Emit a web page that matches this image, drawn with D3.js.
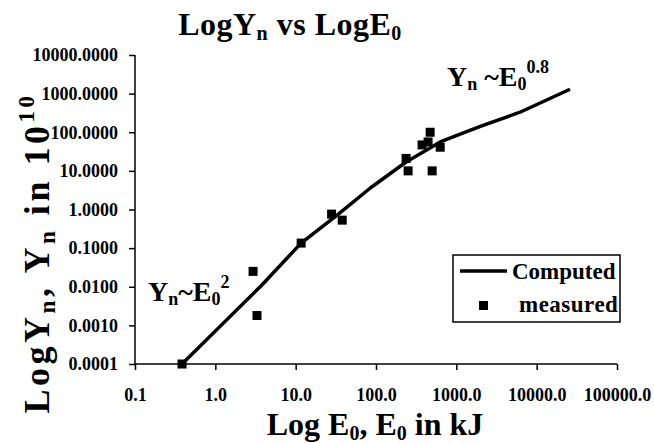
<!DOCTYPE html>
<html>
<head>
<meta charset="utf-8">
<script src="https://cdn.jsdelivr.net/npm/d3@7"></script>
<style>
	body { margin: 0; background: #fff; }
</style>
</head>
<body>
<div id="chart"></div>
<script>
//------------------------------------------------------------------------------
// Data
//------------------------------------------------------------------------------

var x_ticks = [0.1, 1, 10, 100, 1000, 10000, 100000];
var y_ticks = [0.0001, 0.001, 0.01, 0.1, 1, 10, 100, 1000, 10000];

// computed curve
var computed_E = [0.385, 3.7, 11.7, 34, 85, 237, 500, 630, 1200, 2150, 6200, 26000];
var computed_Y = [0.0001, 0.0105, 0.135, 0.76, 3.6, 17, 42, 56, 95, 150, 330, 1300];

// measured points
var measured_E = [0.385, 2.95, 3.3, 11.7, 28, 38, 237, 251, 375, 445, 472, 500, 630];
var measured_Y = [0.0001, 0.025, 0.0018, 0.135, 0.76, 0.53, 21, 10, 47, 56, 100, 10, 41];

var FONT = "'Liberation Serif', 'Times New Roman', serif";

//------------------------------------------------------------------------------
// Plotting
//------------------------------------------------------------------------------

function serif(sel, size) {
	return sel.style("font-family", FONT)
		.style("font-weight", "bold")
		.style("font-size", size + "px")
		.style("fill", "#000");
}

function plot_chart() {
	var width = 654, height = 443;
	var left = 135, right = 617, top = 55, bottom = 364;

	var svg = d3.select("#chart")
		.append("svg")
		.attr("width", width)
		.attr("height", height);

	var xscale = d3.scaleLog()
		.domain([0.1, 100000])
		.range([left, right]);

	var yscale = d3.scaleLog()
		.domain([0.0001, 10000])
		.range([bottom, top]);

	var x_axis = d3.axisBottom(xscale)
		.tickValues(x_ticks)
		.tickFormat(d3.format(".1f"))
		.tickSize(6)
		.tickPadding(18);

	var y_axis = d3.axisLeft(yscale)
		.tickValues(y_ticks)
		.tickFormat(d3.format(".4f"))
		.tickSize(6)
		.tickPadding(11);

	var gx = svg.append("g")
		.attr("transform", "translate(0," + bottom + ")")
		.call(x_axis);

	var gy = svg.append("g")
		.attr("transform", "translate(" + left + ",0)")
		.call(y_axis);

	[gx, gy].forEach(function(g) {
		g.attr("font-family", null);
		g.select(".domain").attr("stroke", "#000").attr("stroke-width", 1.5);
		g.selectAll(".tick line").attr("stroke", "#000").attr("stroke-width", 1.5);
		serif(g.selectAll(".tick text"), 18);
	});
	// axis lines drawn straight, without the outer tick ends
	gx.select(".domain").attr("d", "M" + left + ",0H" + right);
	gy.select(".domain").attr("d", "M0," + bottom + "V" + top);

	// computed curve
	var line = d3.line()
		.x(function(d) { return xscale(d[0]); })
		.y(function(d) { return yscale(d[1]); });

	var curve = computed_E.map(function(e, i) { return [e, computed_Y[i]]; });

	svg.append("path")
		.datum(curve)
		.attr("fill", "none")
		.attr("stroke", "#000")
		.attr("stroke-width", 3.5)
		.attr("stroke-linejoin", "round")
		.attr("d", line);

	// measured points
	var sq = 9;
	svg.selectAll(".meas")
		.data(measured_E.map(function(e, i) { return [e, measured_Y[i]]; }))
		.enter()
		.append("rect")
		.attr("class", "meas")
		.attr("x", function(d) { return xscale(d[0]) - sq / 2; })
		.attr("y", function(d) { return yscale(d[1]) - sq / 2; })
		.attr("width", sq)
		.attr("height", sq)
		.attr("fill", "#000");

	// title
	var title = serif(svg.append("text"), 32)
		.attr("x", 290)
		.attr("y", 35)
		.attr("text-anchor", "middle")
		.style("letter-spacing", "0.5px");
	title.append("tspan").text("LogY");
	title.append("tspan").style("font-size", "20px").attr("dy", 5).text("n");
	title.append("tspan").attr("dy", -5).text(" vs LogE");
	title.append("tspan").style("font-size", "20px").attr("dy", 5).text("0");

	// x axis title
	var xt = serif(svg.append("text"), 32)
		.attr("x", 375)
		.attr("y", 435)
		.attr("text-anchor", "middle");
	xt.append("tspan").text("Log E");
	xt.append("tspan").style("font-size", "20px").attr("dy", 5).text("0");
	xt.append("tspan").attr("dy", -5).text(",  E");
	xt.append("tspan").style("font-size", "20px").attr("dy", 5).text("0");
	xt.append("tspan").attr("dy", -5).text(" in kJ");

	// y axis title
	var yt = serif(svg.append("text"), 36)
		.attr("transform", "translate(49,253) rotate(-90)")
		.attr("text-anchor", "middle")
		.style("letter-spacing", "3.5px");
	yt.append("tspan").text("LogY");
	yt.append("tspan").style("font-size", "23px").attr("dy", 6).text("n");
	yt.append("tspan").attr("dy", -6).text(", Y");
	yt.append("tspan").style("font-size", "23px").attr("dy", 6).text("n");
	yt.append("tspan").attr("dy", -6).text(" in 10");
	yt.append("tspan").style("font-size", "23px").attr("dy", -15).text("10");

	// annotations
	var a1 = serif(svg.append("text"), 28)
		.attr("x", 447)
		.attr("y", 86);
	a1.append("tspan").text("Y");
	a1.append("tspan").style("font-size", "18px").attr("dy", 4).text("n");
	a1.append("tspan").attr("dy", -4).text(" ~E");
	a1.append("tspan").style("font-size", "18px").attr("dy", 4).text("0");
	a1.append("tspan").style("font-size", "18px").attr("dy", -17).text("0.8");

	var a2 = serif(svg.append("text"), 28)
		.attr("x", 148)
		.attr("y", 301);
	a2.append("tspan").text("Y");
	a2.append("tspan").style("font-size", "18px").attr("dy", 4).text("n");
	a2.append("tspan").attr("dy", -4).text("~E");
	a2.append("tspan").style("font-size", "18px").attr("dy", 4).text("0");
	a2.append("tspan").style("font-size", "18px").attr("dy", -17).text("2");

	// legend
	var lg = svg.append("g");
	lg.append("rect")
		.attr("x", 453).attr("y", 255)
		.attr("width", 167).attr("height", 67)
		.attr("fill", "#fff")
		.attr("stroke", "#000")
		.attr("stroke-width", 1.5);
	lg.append("line")
		.attr("x1", 460).attr("x2", 507)
		.attr("y1", 271).attr("y2", 271)
		.attr("stroke", "#000")
		.attr("stroke-width", 3.5);
	serif(lg.append("text"), 23)
		.attr("x", 512).attr("y", 279)
		.text("Computed");
	lg.append("rect")
		.attr("x", 479).attr("y", 301)
		.attr("width", sq).attr("height", sq)
		.attr("fill", "#000");
	serif(lg.append("text"), 23)
		.attr("x", 519).attr("y", 312)
		.style("letter-spacing", "0.5px")
		.text("measured");
}

//------------------------------------------------------------------------------
// Main
//------------------------------------------------------------------------------

plot_chart();
</script>
</body>
</html>
